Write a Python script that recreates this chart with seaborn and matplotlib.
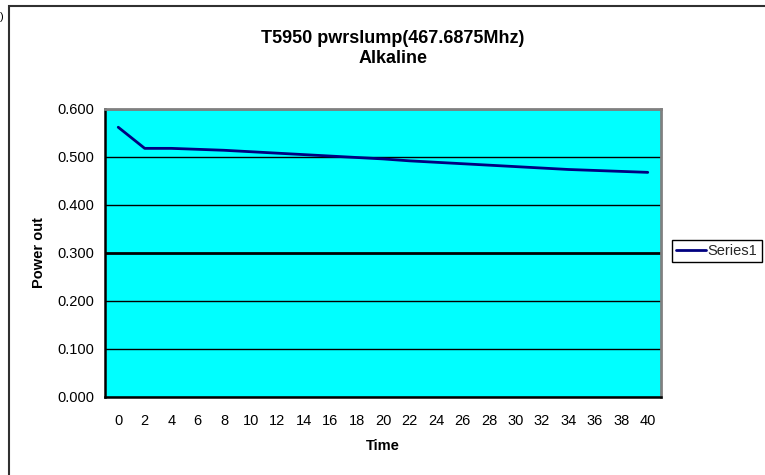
import numpy as np
import pandas as pd
import seaborn as sns
import matplotlib.pyplot as plt
from matplotlib.patches import Rectangle

# ---- data ----
time = [0, 2, 4, 6, 8, 10, 12, 14, 16, 18, 20, 22, 24, 26, 28, 30, 32, 34, 36, 38, 40]
power = [0.562, 0.518, 0.518, 0.516, 0.514, 0.511, 0.508, 0.505, 0.502, 0.499, 0.496,
         0.492, 0.489, 0.486, 0.483, 0.480, 0.477, 0.474, 0.472, 0.470, 0.468]
y_ticks = [0.0, 0.1, 0.2, 0.3, 0.4, 0.5, 0.6]
series_name = "Series1"
title_text = "T5950 pwrslump(467.6875Mhz)\nAlkaline"

sns.set_theme(style="white")
plt.rcParams['font.family'] = ['Liberation Sans', 'DejaVu Sans']

FS = 10.5

fig = plt.figure(figsize=(7.65, 4.75), dpi=100)
fig.patch.set_facecolor('white')
ax = fig.add_axes([105/765, 1-397/475, (661-105)/765, (397-109)/475])

df = pd.DataFrame({"Time": time, "Power out": power})
sns.lineplot(data=df, x="Time", y="Power out", color="#000080", linewidth=2,
             ax=ax, label=series_name, legend=False)

ax.set_facecolor('#00FFFF')
ax.set_xlim(time[0] - 1, time[-1] + 1)
ax.set_ylim(y_ticks[0], y_ticks[-1])

# y axis
ax.set_yticks(y_ticks)
ax.set_yticklabels([f"{v:.3f}" for v in y_ticks])
ax.grid(axis='y', color='black', linewidth=1)
ax.grid(axis='x', visible=False)
gl = ax.yaxis.get_gridlines()
gl[3].set_linewidth(2)

# x axis: category-style ticks (marks at boundaries, labels at centers)
bounds = [t - 1 for t in time] + [time[-1] + 1]
ax.set_xticks(bounds)
ax.set_xticklabels([''] * len(bounds))
ax.set_xticks(time, minor=True)
ax.set_xticklabels([str(t) for t in time], minor=True)

ax.tick_params(axis='both', which='major', direction='out', length=5, width=1,
               color='black', labelsize=FS, labelcolor='black')
ax.tick_params(axis='y', which='major', pad=3)
ax.tick_params(axis='x', which='minor', length=0, pad=12, labelsize=FS,
               labelcolor='black')
ax.tick_params(axis='y', which='minor', left=False)

for s in ['left', 'bottom']:
    ax.spines[s].set_color('black')
    ax.spines[s].set_linewidth(1.8)
for s in ['top', 'right']:
    ax.spines[s].set_color('#808080')
    ax.spines[s].set_linewidth(2)

ax.set_xlabel("Time", fontsize=FS, fontweight='bold', color='black')
ax.set_ylabel("Power out", fontsize=FS, fontweight='bold', color='black')
ax.xaxis.set_label_coords(0.5, -(439-397)/288)
ax.yaxis.set_label_coords((46-105)/556, 0.5)

fig.text(393/765, 1-48.5/475, title_text, ha='center', va='center',
         fontsize=13, fontweight='bold', linespacing=1.25, color='black')

leg = ax.legend(loc='center left', bbox_to_anchor=(672/765, 1-251/475),
                bbox_transform=fig.transFigure, frameon=True, fancybox=False,
                edgecolor='black', framealpha=1, fontsize=FS, handlelength=2.0,
                handletextpad=0.15, borderpad=0.3, borderaxespad=0)
leg.get_frame().set_linewidth(1)

# outer chart border
fig.patches.append(Rectangle((9/765, -0.1), 1.0, 1 - 6/475 + 0.1,
                             transform=fig.transFigure, fill=False,
                             edgecolor='#303030', linewidth=1.5))
fig.text(0.0, 1-17/475, ')', ha='left', va='center', fontsize=8, color='black')

fig.savefig("out.png", dpi=100)
